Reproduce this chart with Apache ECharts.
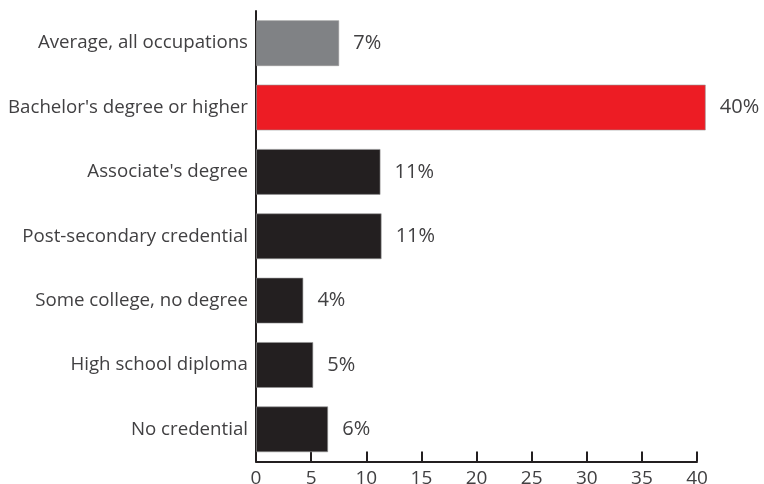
<!DOCTYPE html>
<html>
<head>
<meta charset="utf-8">
<script src="https://cdn.jsdelivr.net/npm/echarts@6/dist/echarts.min.js"></script>
<style>
  html, body { margin: 0; padding: 0; background: #fff; }
  #chart { width: 764px; height: 484px; }
</style>
</head>
<body>
<div id="chart"></div>
<script>
// categories top to bottom
const categories = [
  'Average, all occupations',
  "Bachelor's degree or higher",
  "Associate's degree",
  'Post-secondary credential',
  'Some college, no degree',
  'High school diploma',
  'No credential'
]
const values = [7.55, 40.8, 11.3, 11.4, 4.3, 5.2, 6.55]
const valueLabels = ['7%', '40%', '11%', '11%', '4%', '5%', '6%']
const barColors = ['#808285', '#ed1c24', '#231f20', '#231f20', '#231f20', '#231f20', '#231f20']
const xTicks = [0, 5, 10, 15, 20, 25, 30, 35, 40]

const font = '"Open Sans", "Liberation Sans", sans-serif'
const chart = echarts.init(document.getElementById('chart'))

chart.setOption({
  backgroundColor: '#fff',
  animation: false,
  grid: { left: 256, right: 67, top: 11, bottom: 22.5, outerBoundsMode: 'none' },
  xAxis: {
    type: 'value',
    min: xTicks[0],
    max: xTicks[xTicks.length - 1],
    interval: 5,
    splitLine: { show: false },
    axisLine: { show: true, lineStyle: { color: '#231f20', width: 2 } },
    axisTick: { show: true, inside: true, length: 10, lineStyle: { color: '#231f20', width: 2 } },
    axisLabel: { color: '#414042', fontSize: 19, fontFamily: font, margin: 8 }
  },
  yAxis: {
    type: 'category',
    inverse: true,
    data: categories,
    axisLine: { show: true, lineStyle: { color: '#231f20', width: 2 } },
    axisTick: { show: false },
    axisLabel: { color: '#414042', fontSize: 18.7, fontFamily: font, margin: 8, padding: [3, 0, 0, 0] }
  },
  series: [{
    type: 'bar',
    clip: false,
    barCategoryGap: '28.5%',
    data: values.map((v, i) => ({
      value: v,
      itemStyle: { color: barColors[i], borderColor: 'rgba(150,150,150,0.6)', borderWidth: 1 }
    })),
    label: {
      show: true,
      position: 'right',
      distance: 14,
      color: '#414042',
      fontSize: 20,
      fontFamily: font,
      padding: [2, 0, 0, 0],
      formatter: p => valueLabels[p.dataIndex]
    }
  }]
})
</script>
</body>
</html>
